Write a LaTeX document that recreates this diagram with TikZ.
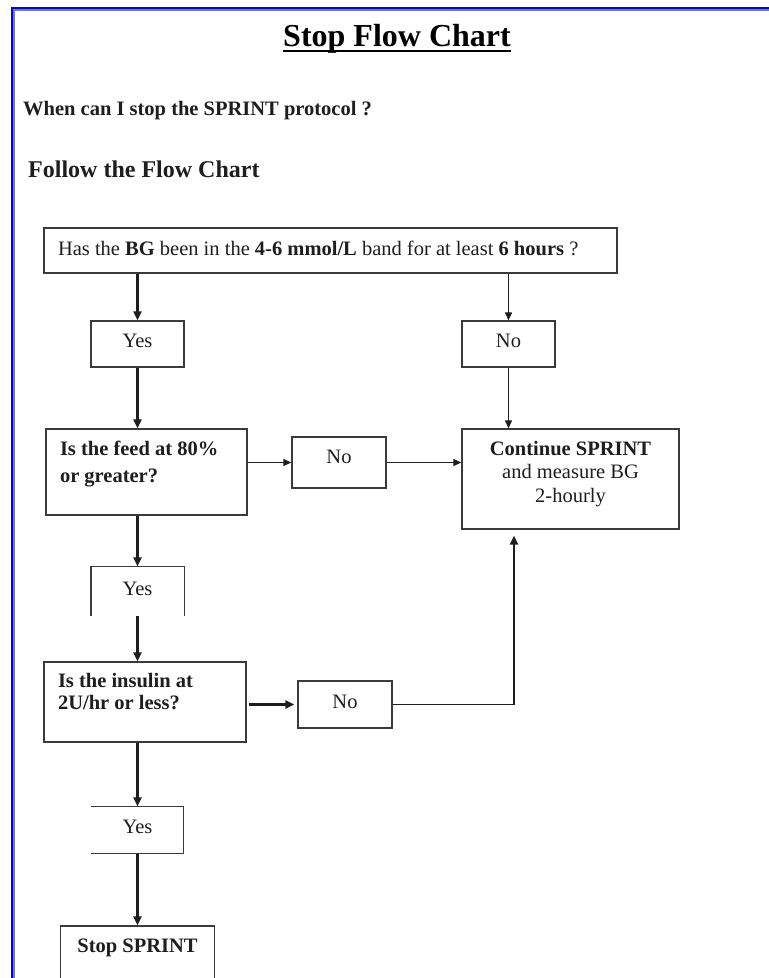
\documentclass[tikz,border=0pt]{standalone}
\usepackage{fontspec}
\setmainfont{Liberation Serif}
\usepackage{tikz}
\usetikzlibrary{arrows.meta}

\definecolor{frameblue}{HTML}{0000FF}
\definecolor{framegray}{HTML}{808080}
\definecolor{boxline}{HTML}{3A3A3A}
\definecolor{inkdark}{HTML}{1E1E1E}

\newcommand{\boxfont}{\fontsize{20.5}{24}\selectfont}
\newcommand{\askfont}{\fontsize{20.5}{24}\selectfont\bfseries}
\newcommand{\headfont}{\fontsize{24}{28}\selectfont\bfseries}
\newcommand{\titlefont}{\fontsize{32}{36}\selectfont\bfseries}

\begin{document}
\begin{tikzpicture}[x=1pt,y=-1pt,
  flowbox/.style={draw=boxline,line width=1.3pt,inner sep=0pt,font=\boxfont,text=inkdark},
  openbox/.style={flowbox,draw=none},
  thickarrow/.style={draw=inkdark,line width=2.4pt,-{Triangle[length=9pt,width=8pt]}},
  thinarrow/.style={draw=inkdark,line width=1.2pt,-{Triangle[length=8pt,width=7pt]}}]
\useasboundingbox (0,0) rectangle (769,978);
\clip (0,0) rectangle (769,978);
\fill[white] (0,0) rectangle (769,978);
% page frame
\draw[frameblue,line width=2.6pt] (12,978) -- (12,8) -- (769,8);
\draw[framegray,line width=1.2pt] (14,978) -- (14,9.9) -- (769,9.9);

% headings
\node[font=\titlefont,text=black,anchor=base,inner sep=0pt] (title) at (397,46) {Stop Flow Chart};
\draw[black,line width=2pt] ([yshift=-5pt]title.base west) -- ([yshift=-5pt]title.base east);
\node[font=\askfont,text=inkdark,anchor=base west,inner sep=0pt] (question) at (23,115) {When can I stop the SPRINT protocol ?};
\node[font=\headfont,text=inkdark,anchor=base west,inner sep=0pt] (follow) at (28,177) {Follow the Flow Chart};

% boxes
\node[flowbox,minimum width=573pt,minimum height=45pt,text height=27pt,text depth=18pt] (q1) at (330.5,250.5)
  {\parbox[t]{545pt}{Has the \textbf{BG} been in the \textbf{4-6 mmol/L} band for at least \textbf{6 hours} ?}};
\node[flowbox,minimum width=93pt,minimum height=46pt,text height=26pt,text depth=20pt] (y1) at (137.5,344) {Yes};
\node[flowbox,minimum width=93pt,minimum height=46pt,text height=26pt,text depth=20pt] (n1) at (508.5,344) {No};
\node[flowbox,minimum width=201pt,minimum height=86pt,text height=26pt,text depth=60pt] (q2) at (146.5,472)
  {\parbox[t]{173pt}{\raggedright\bfseries\fontsize{20.5}{27}\selectfont Is the feed at 80\%\\or greater?}};
\node[flowbox,minimum width=94pt,minimum height=51pt,text height=26pt,text depth=25pt] (n2) at (339,462.5) {No};
\node[flowbox,minimum width=217pt,minimum height=100pt,text height=26pt,text depth=74pt] (cont) at (570.5,479)
  {\parbox[t]{200pt}{\centering\fontsize{20.5}{23.5}\selectfont\textbf{Continue SPRINT}\\and measure BG\\2-hourly}};
\node[openbox,minimum width=92pt,minimum height=48pt,text height=28pt,text depth=20pt] (y2) at (137.5,591) {Yes};
\node[flowbox,minimum width=202pt,minimum height=80pt,text height=25pt,text depth=55pt] (q3) at (145,702)
  {\parbox[t]{174pt}{\raggedright\bfseries\fontsize{20.5}{22}\selectfont Is the insulin at\\2U/hr or less?}};
\node[flowbox,minimum width=94pt,minimum height=47pt,text height=27pt,text depth=20pt] (n3) at (345,704.5) {No};
\node[openbox,minimum width=91pt,minimum height=46pt,text height=26pt,text depth=20pt] (y3) at (137.5,830) {Yes};
\node[flowbox,minimum width=154pt,minimum height=68pt,text height=26pt,text depth=42pt,font=\boxfont\bfseries] (stop) at (137.5,960) {Stop SPRINT};

% open sided boxes
\draw[boxline,line width=1.3pt] (y2.south west) -- (y2.north west) -- (y2.north east) -- (y2.south east);
\draw[boxline,line width=1.3pt] (y3.north west) -- (y3.north east) -- (y3.south east) -- (y3.south west);

% connectors
\draw[thickarrow] (q1.south -| y1.north) -- (y1.north);
\draw[thickarrow] (y1.south) -- (y1.south |- q2.north);
\draw[thinarrow] (q1.south -| n1.north) -- (n1.north);
\draw[thinarrow] (n1.south) -- (n1.south |- cont.north);
\draw[thinarrow] (q2.east |- n2.west) -- (n2.west);
\draw[thinarrow] (n2.east) -- (n2.east -| cont.west);
\draw[thickarrow] (q2.south -| y2.north) -- (y2.north);
\draw[thickarrow] (y2.south) -- (y2.south |- q3.north);
\draw[thickarrow,shorten <=2pt,shorten >=3pt] (q3.east |- n3.west) -- (n3.west);
\coordinate (bend) at (514,704.5);
\draw[draw=inkdark,line width=1.2pt] (n3.east) -- (bend);
\draw[thickarrow,shorten >=6pt] (bend) -- (bend |- cont.south);
\draw[thickarrow] (q3.south -| y3.north) -- (y3.north);
\draw[thickarrow] (y3.south) -- (y3.south |- stop.north);
\end{tikzpicture}
\end{document}
